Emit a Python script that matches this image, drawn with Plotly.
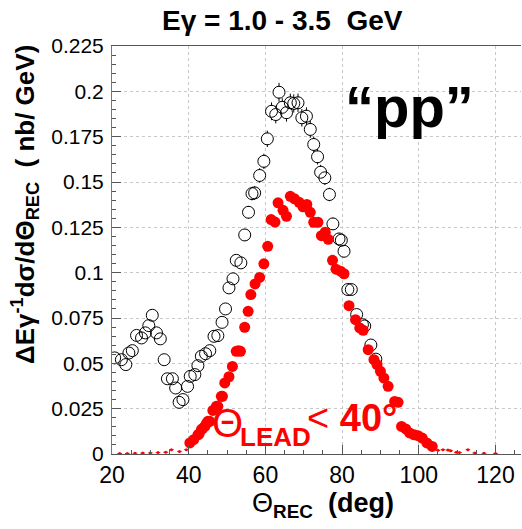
import plotly.graph_objects as go

# ---- data ----
open_x = [20.7, 22.45, 23.6, 24.4, 25.3, 26.4, 27.7, 28.7, 29.6, 30.5, 31.6, 32.6, 33.6, 34.45, 35.75,
          36.6, 37.5, 38.5, 39.7, 40.4, 41.6, 42.4, 43.3, 44.4, 45.5, 46.6, 47.6, 48.7, 49.6, 50.5,
          51.55, 52.4, 53.6, 54.6, 55.6, 56.5, 57.2, 58.5, 59.6, 60.5, 61.6, 62.7, 63.55, 64.4, 65.5,
          66.5, 67.4, 68.5, 69.5, 70.7, 71.7, 72.6, 73.6, 74.4, 75.5, 76.7, 77.6, 79.2, 79.8, 80.5,
          81.5, 82.4, 83.8, 85.3, 85.9, 87.5, 88.8]
open_y = [0.053, 0.052, 0.0493, 0.0557, 0.057, 0.0654, 0.064, 0.0668, 0.0708, 0.0765, 0.0668, 0.0635,
          0.052, 0.0415, 0.0415, 0.0364, 0.0285, 0.030, 0.0373, 0.0428, 0.0438, 0.0487, 0.0539, 0.0553,
          0.057, 0.0649, 0.0653, 0.0726, 0.080, 0.0916, 0.0966, 0.1068, 0.1054, 0.1208, 0.1333, 0.1436,
          0.144, 0.1536, 0.1614, 0.1738, 0.189, 0.1872, 0.1995, 0.1912, 0.1882, 0.1937, 0.1933, 0.1937,
          0.1854, 0.1863, 0.179, 0.1707, 0.1639, 0.1554, 0.1523, 0.1431, 0.1269, 0.1186, 0.1179, 0.1118,
          0.0907, 0.0907, 0.0769, 0.0713, 0.0706, 0.0601, 0.0523]

red_x = [40.3, 41.3, 42.4, 42.7, 43.3, 43.6, 44.2, 44.6, 45.0, 45.5, 46.3, 47.2, 47.6, 48.5, 48.8, 49.4,
         50.5, 51.4, 52.4, 53.0, 53.5, 54.6, 55.5, 56.2, 57.3, 58.5, 59.6, 60.6, 61.5, 62.5, 63.3,
         64.6, 65.5, 66.5, 67.6, 68.8, 69.8, 70.8, 71.7, 72.6, 73.7, 74.6, 75.6, 76.4, 77.5, 78.4,
         79.6, 80.5, 81.8, 83.5, 84.6, 85.5, 86.8, 88.3, 89.1, 90.0, 90.9, 92.0, 93.7, 94.6, 95.5,
         96.6, 97.6, 98.8, 99.8, 100.9, 102.1, 103.5]
red_y = [0.0061, 0.0079, 0.0106, 0.0110, 0.0134, 0.0140, 0.0152, 0.0167, 0.018, 0.018, 0.0240, 0.0263,
         0.0263, 0.0318, 0.0318, 0.0392, 0.0426, 0.0483, 0.0566, 0.0570, 0.0566, 0.0699, 0.0787, 0.0879,
         0.0938, 0.0974, 0.1049, 0.1145, 0.1293, 0.1279, 0.1385, 0.1344, 0.1311, 0.1421, 0.1407,
         0.1388, 0.1363, 0.1376, 0.1333, 0.1278, 0.1278, 0.1204, 0.1223, 0.1184, 0.1068, 0.1019,
         0.1008, 0.0994, 0.0818, 0.0741, 0.0695, 0.0682, 0.0575, 0.052, 0.0493, 0.0456, 0.0419,
         0.0373, 0.029, 0.0285, 0.0152, 0.0138, 0.0116, 0.0106, 0.0101, 0.0088, 0.0061, 0.0042]

tail_x = [22, 24, 26, 28, 30, 32, 34, 35.5, 37.6, 39.4,
          105.0, 106.3, 107.6, 108.3, 109.8, 110.6, 112.8, 114.6, 117.0, 120.0]
tail_y = [0.0003, 0.0003, 0.0004, 0.0005, 0.0006, 0.0008, 0.0010, 0.0024, 0.0014, 0.0024,
          0.0020, 0.0024, 0.0022, 0.0018, 0.0009, 0.0008, 0.0024, 0.0006, 0.0004, 0.0003]

x_ticks = [20, 40, 60, 80, 100, 120]
y_ticks = [0, 0.025, 0.05, 0.075, 0.1, 0.125, 0.15, 0.175, 0.2, 0.225]
y_tick_labels = ["0", "0.025", "0.05", "0.075", "0.1", "0.125", "0.15", "0.175", "0.2", "0.225"]

FONT = "Liberation Sans, Arial, Helvetica, sans-serif"

fig = go.Figure()
fig.add_trace(go.Scatter(
    x=tail_x, y=tail_y, mode="markers",
    marker=dict(symbol="circle", size=3, color="red"),
    error_x=dict(type="constant", value=0.6, color="red", thickness=1, width=0),
    showlegend=False, hoverinfo="skip"))
# error bars of the open circles, hidden inside the circle by a white disc
fig.add_trace(go.Scatter(
    x=open_x, y=open_y, mode="markers",
    marker=dict(symbol="circle", size=11, color="white", line=dict(width=0)),
    error_y=dict(type="percent", value=2.6, color="black", thickness=1, width=0),
    showlegend=False, hoverinfo="skip"))
fig.add_trace(go.Scatter(
    x=open_x, y=open_y, mode="markers",
    marker=dict(symbol="circle-open", size=12, color="black", line=dict(width=1, color="black")),
    showlegend=False))
fig.add_trace(go.Scatter(
    x=red_x, y=red_y, mode="markers",
    marker=dict(symbol="circle", size=11, color="red", line=dict(width=0)),
    showlegend=False))

L, R, T, B = 112, 1, 46, 75
W, H = 522, 529
PW, PH = W - L - R, H - T - B


def pos(xp, yp):
    return dict(x=(xp - L) / PW, y=(H - B - yp) / PH, xref="paper", yref="paper")


ann = []
ann.append(dict(**pos(282, 20), text="<b>E\u03b3 = 1.0 - 3.5\u00a0\u00a0GeV</b>", showarrow=False,
                font=dict(family=FONT, size=28, color="black"), xanchor="center", yanchor="middle"))
ann.append(dict(**pos(409, 106), text="<b>\u201cpp\u201d</b>", showarrow=False,
                font=dict(family=FONT, size=58, color="black"), xanchor="center", yanchor="middle"))
ann.append(dict(**pos(227, 423), text="\u0398", showarrow=False,
                font=dict(family=FONT, size=40, color="red"), xanchor="center", yanchor="middle"))
ann.append(dict(**pos(275, 437), text="<b>LEAD</b>", showarrow=False,
                font=dict(family=FONT, size=26, color="red"), xanchor="center", yanchor="middle"))
ann.append(dict(**pos(352, 418), text="&lt; <b>40\u00b0</b>", showarrow=False,
                font=dict(family=FONT, size=38, color="red"), xanchor="center", yanchor="middle"))
ann.append(dict(**pos(323, 505), text="\u0398<b><sub>REC</sub>\u00a0\u00a0(deg)</b>", showarrow=False,
                font=dict(family=FONT, size=27, color="black"), xanchor="center", yanchor="middle"))
ann.append(dict(**pos(25, 205),
                text="<b>\u0394E\u03b3<sup>-1</sup>d\u03c3/d\u0398<sub>REC</sub>\u00a0\u00a0(\u00a0nb/\u00a0GeV)</b>",
                showarrow=False, textangle=-90,
                font=dict(family=FONT, size=26, color="black"), xanchor="center", yanchor="middle"))

fig.update_layout(
    width=W, height=H,
    margin=dict(l=L, r=R, t=T, b=B, pad=0),
    paper_bgcolor="white", plot_bgcolor="white",
    font=dict(family=FONT, color="black"),
    annotations=ann,
    xaxis=dict(range=[20, 20 + PW / 3.835], tickvals=x_ticks, ticktext=[str(v) for v in x_ticks],
               ticks="inside", ticklen=9, tickcolor="#555", tickwidth=1,
               minor=dict(dtick=5, ticks="inside", ticklen=4, tickcolor="#555", showgrid=False),
               showgrid=True, gridcolor="#c8c8c8", griddash="dot", gridwidth=1,
               showline=True, linecolor="#555", linewidth=1, mirror=True,
               tickfont=dict(family=FONT, size=23, color="black"), zeroline=False),
    yaxis=dict(range=[0, 0.225], tickvals=y_ticks, ticktext=y_tick_labels,
               ticks="inside", ticklen=9, tickcolor="#555", tickwidth=1,
               minor=dict(dtick=0.005, ticks="inside", ticklen=4, tickcolor="#555", showgrid=False),
               showgrid=True, gridcolor="#c8c8c8", griddash="dot", gridwidth=1,
               showline=True, linecolor="#777", linewidth=1,
               tickfont=dict(family=FONT, size=21, color="black"), zeroline=False,
               ticklabelstandoff=3),
)

fig.write_html("out.html")
